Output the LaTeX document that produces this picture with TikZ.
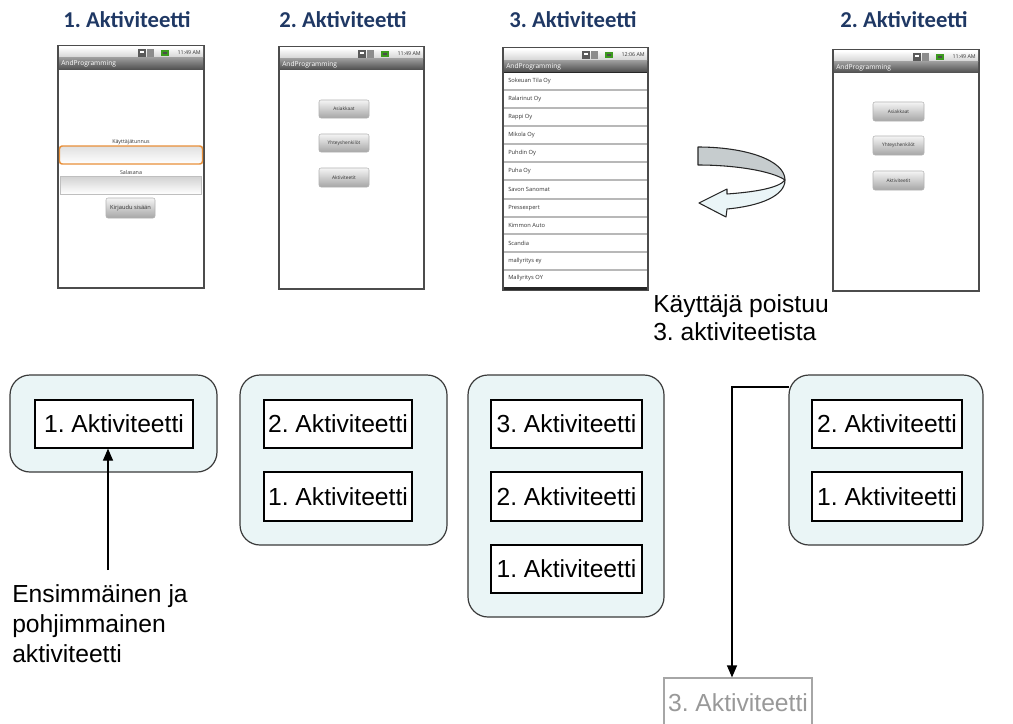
\documentclass[tikz,border=0pt]{standalone}
\usepackage{fontspec}
\setmainfont{Liberation Sans}
\newfontfamily\calibri{Carlito}
\newfontfamily\droid{Open Sans}
\usetikzlibrary{arrows.meta,calc}
\frenchspacing

\definecolor{titleblue}{HTML}{1F3864}
\definecolor{stackfill}{HTML}{EAF5F6}
\definecolor{stackline}{HTML}{3A3A3A}
\definecolor{curlgray}{HTML}{C6CCCE}
\definecolor{curllight}{HTML}{EAF5F7}
\definecolor{fieldorange}{HTML}{E8903A}
\definecolor{battgreen}{HTML}{3C9A1E}

% one picture unit is one pixel
\newcommand\pxl[1]{#1*0.75pt}

% status bar of an emulator screen: left, top, right, bottom, clock text
\newcommand\phonestatus[5]{%
  \fill[top color=white, bottom color=black!18] (#1,#2) rectangle (#3,#4);
  \begin{scope}[shift={(#3,#2)}]
    \fill[black!65] (-65,2) rectangle (-57,10);
    \fill[white] (-63,4) rectangle (-59,6);
    \fill[black!45] (-56,2) rectangle (-49,10);
    \fill[battgreen] (-42,3) rectangle (-34,9);
    \fill[black!70] (-40,5) rectangle (-36,7);
    \node[uitext, anchor=east, font=\droid\fontsize{4}{5}\selectfont] at (-2,6) {#5};
  \end{scope}}
% title bar of an emulator screen: left, right, top, bottom
\newcommand\phonetitle[4]{%
  \fill[top color=black!40, bottom color=black!70] (#1,#3) rectangle (#2,#4);
  \node[uitext, anchor=west, text=white, font=\droid\fontsize{5}{6}\selectfont] at ($(#1,#3)!0.5!(#1,#4)+(2,0)$) {AndProgramming};}

\begin{document}
\begin{tikzpicture}[x=0.75pt,y=-0.75pt,
  ttl/.style={font=\calibri\bfseries\fontsize{17}{20}\selectfont, text=titleblue, inner sep=0},
  phone/.style={draw=black!70, line width=1.1pt, fill=white},
  uitext/.style={inner sep=0, text=black!80},
  ui/.style={uitext, font=\droid\fontsize{4}{5}\selectfont},
  btn/.style={draw=black!30, line width=0.4pt, rounded corners=1.5pt, top color=black!4,
    bottom color=black!35, inner sep=0, text=black!80, font=\droid\fontsize{3.6}{4.5}\selectfont},
  listitem/.style={uitext, anchor=west, font=\droid\fontsize{4.3}{5}\selectfont},
  stackbox/.style={draw=stackline, fill=stackfill, line width=0.9pt, rounded corners=15pt, inner sep=0},
  actbox/.style={draw=black, fill=white, line width=0.9pt, inner sep=0,
    font=\fontsize{18.5}{22}\selectfont},
  oldbox/.style={actbox, draw=black!35, text=black!40},
  note/.style={inner sep=0, align=left, font=\fontsize{18.5}{22.5}\selectfont},
  arr/.style={line width=0.9pt, -{Triangle[length=9pt,width=7.5pt]}}
]
\useasboundingbox (0,0) rectangle (1013,724);
\clip (0,0) rectangle (1013,724);

% ---------- headings ----------
\node[ttl] (t1) at (127,20) {1. Aktiviteetti};
\node[ttl] (t2) at (343,20) {2. Aktiviteetti};
\node[ttl] (t3) at (573,20) {3. Aktiviteetti};
\node[ttl] (t4) at (904,20) {2. Aktiviteetti};

% ---------- screen 1: login ----------
\node[phone, minimum width=\pxl{146}, minimum height=\pxl{242}] (p1) at (131,167) {};
\phonestatus{59}{47}{203}{58}{11:49 AM}
\phonetitle{59}{203}{58}{70}
\node[ui] (p1user) at (131,142) {Käyttäjätunnus};
\draw[fieldorange, line width=1.1pt, rounded corners=2pt, top color=black!12, bottom color=white]
  (59.5,146) rectangle (202.5,164);
\node[ui] (p1pass) at (131,172) {Salasana};
\draw[black!25, line width=0.6pt, top color=black!18, bottom color=white]
  (60,176) rectangle (201,194);
\node[btn, font=\droid\fontsize{4.3}{5}\selectfont, minimum width=\pxl{49}, minimum height=\pxl{20}]
  (p1login) at (130.5,208) {Kirjaudu sisään};

% ---------- screen 2: main menu ----------
\node[phone, minimum width=\pxl{145}, minimum height=\pxl{242}] (p2) at (351.5,168) {};
\phonestatus{280}{48}{423}{59}{11:49 AM}
\phonetitle{280}{423}{59}{70}
\node[btn, minimum width=\pxl{50}, minimum height=\pxl{18}] (p2a) at (344,109) {Asiakkaat};
\node[btn, minimum width=\pxl{50}, minimum height=\pxl{18}] (p2b) at (344,143) {Yhteyshenkilöt};
\node[btn, minimum width=\pxl{50}, minimum height=\pxl{19}] (p2c) at (344,177.5) {Aktiviteetit};

% ---------- screen 3: customer list ----------
\node[phone, minimum width=\pxl{145}, minimum height=\pxl{242}] (p3) at (575.5,169) {};
\phonestatus{504}{49}{647}{61}{12:06 AM}
\phonetitle{504}{647}{61}{72}
\fill[black!85] (504,72) rectangle (647,73.5);
\foreach \yd in {90,108,126,144,162,180,199,217,234,252,270}
  \draw[black!28, line width=0.9pt] (504,\yd) -- (647,\yd);
\foreach \yc/\nm [count=\i] in {81.5/Sokeuan Tila Oy, 99/Ralarinut Oy, 117/Rappi Oy,
    135/Mikola Oy, 153/Puhdin Oy, 171/Puha Oy, 189.5/Savon Sanomat, 208/Pressexpert,
    225.5/Kimmon Auto, 243/Scandia, 261/mallyritys ey, 278.5/Mallyritys OY}
  \node[listitem] (row\i) at (508,\yc) {\nm};
\fill[black!85] (504,287) rectangle (647,290);

% ---------- curled return arrow ----------
\draw[black!85, line width=0.8pt, fill=curlgray, line join=round]
  (698,147) .. controls (745,147) and (785,160) .. (785,180)
  .. controls (772,171) and (735,165) .. (698,165) -- cycle;
\draw[black!85, line width=0.8pt, fill=curllight, line join=round]
  (785,180) .. controls (785,196) and (760,206) .. (727,209)
  -- (726,217) -- (699,203) -- (727,189) -- (727,194)
  .. controls (755,192) and (779,188) .. (785,180) -- cycle;
\node[note, anchor=north west, font=\fontsize{18.5}{21}\selectfont] (leave) at (653,294)
  {Käyttäjä poistuu\\3. aktiviteetista};

% ---------- screen 4: main menu again ----------
\node[phone, minimum width=\pxl{146}, minimum height=\pxl{241}] (p4) at (906,170.5) {};
\phonestatus{834}{51}{978}{62}{11:49 AM}
\phonetitle{834}{978}{62}{73}
\node[btn, minimum width=\pxl{51}, minimum height=\pxl{19}] (p4a) at (898.5,111.5) {Asiakkaat};
\node[btn, minimum width=\pxl{51}, minimum height=\pxl{19}] (p4b) at (898.5,145.5) {Yhteyshenkilöt};
\node[btn, minimum width=\pxl{51}, minimum height=\pxl{19}] (p4c) at (898.5,180.5) {Aktiviteetit};

% ---------- back stacks ----------
\node[stackbox, minimum width=\pxl{207}, minimum height=\pxl{97}] (s1) at (113.5,423.5) {};
\node[actbox, minimum width=\pxl{158}, minimum height=\pxl{48}] (s1a1) at (114,424) {1. Aktiviteetti};

\node[stackbox, minimum width=\pxl{207}, minimum height=\pxl{170}] (s2) at (343.5,460) {};
\node[actbox, minimum width=\pxl{148}, minimum height=\pxl{48}] (s2a2) at (338,424) {2. Aktiviteetti};
\node[actbox, minimum width=\pxl{148}, minimum height=\pxl{49}] (s2a1) at (338,496.5) {1. Aktiviteetti};

\node[stackbox, minimum width=\pxl{196}, minimum height=\pxl{242}] (s3) at (566,496) {};
\node[actbox, minimum width=\pxl{151}, minimum height=\pxl{48}] (s3a3) at (566.5,424) {3. Aktiviteetti};
\node[actbox, minimum width=\pxl{151}, minimum height=\pxl{49}] (s3a2) at (566.5,496.5) {2. Aktiviteetti};
\node[actbox, minimum width=\pxl{151}, minimum height=\pxl{48}] (s3a1) at (566.5,569) {1. Aktiviteetti};

\node[stackbox, minimum width=\pxl{194}, minimum height=\pxl{170}] (s4) at (886,460) {};
\node[actbox, minimum width=\pxl{150}, minimum height=\pxl{48}] (s4a2) at (887,424) {2. Aktiviteetti};
\node[actbox, minimum width=\pxl{150}, minimum height=\pxl{49}] (s4a1) at (887,496.5) {1. Aktiviteetti};

% ---------- the activity that left the stack ----------
\node[oldbox, minimum width=\pxl{148}, minimum height=\pxl{49}] (gone) at (738,702.5) {3. Aktiviteetti};
\coordinate (popstart) at (789,387);
\draw[arr] (popstart) -| ($(gone.north)+(-6,0)$);

% ---------- bottom-most activity ----------
\node[note, anchor=north west] (first) at (12,584)
  {Ensimmäinen ja\\pohjimmainen\\aktiviteetti};
\coordinate (firstarrow) at (108,570);
\draw[arr] (firstarrow) -- (firstarrow |- s1a1.south);
\end{tikzpicture}
\end{document}
